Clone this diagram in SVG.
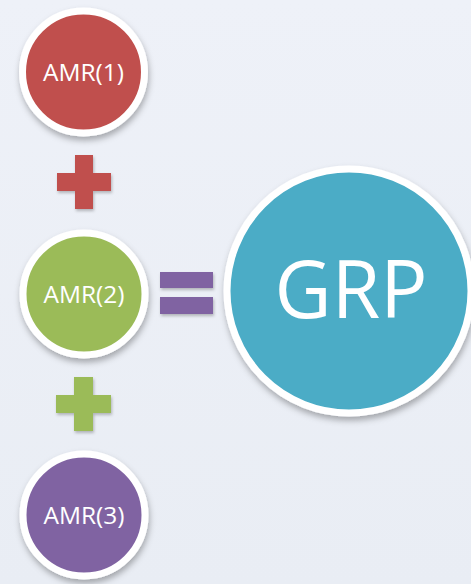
<svg xmlns="http://www.w3.org/2000/svg" width="471" height="584" viewBox="0 0 471 584">
<defs>
<linearGradient id="bg" x1="0" y1="0" x2="0" y2="1">
<stop offset="0" stop-color="#EEF1F8"/>
<stop offset="1" stop-color="#E9EDF4"/>
</linearGradient>
<filter id="sh" x="-20%" y="-20%" width="140%" height="150%">
<feDropShadow dx="1" dy="4" stdDeviation="3" flood-color="#000" flood-opacity="0.3"/>
</filter>
<filter id="sh2" x="-20%" y="-20%" width="140%" height="150%">
<feDropShadow dx="1" dy="2" stdDeviation="1.5" flood-color="#000" flood-opacity="0.25"/>
</filter>
</defs>
<style>
.ring{stroke:#FFFFFF;stroke-width:7;filter:url(#sh)}
.lbl{font-family:"Open Sans","Liberation Sans",sans-serif;fill:#FFFFFF;text-anchor:middle}
.small{font-size:23.5px}
.op{filter:url(#sh2)}
</style>
<rect width="471" height="584" fill="url(#bg)"/>
<g id="amr1">
<circle class="ring" cx="83.5" cy="72" r="61" fill="#C0504D"/>
<text class="lbl small" x="83.5" y="80.5" textLength="81" lengthAdjust="spacingAndGlyphs">AMR(1)</text>
</g>
<g id="amr2">
<circle class="ring" cx="84" cy="294" r="61" fill="#9BBB59"/>
<text class="lbl small" x="84" y="302.5" textLength="81" lengthAdjust="spacingAndGlyphs">AMR(2)</text>
</g>
<g id="amr3">
<circle class="ring" cx="84" cy="515" r="61" fill="#8064A2"/>
<text class="lbl small" x="84" y="523.5" textLength="81" lengthAdjust="spacingAndGlyphs">AMR(3)</text>
</g>
<g id="grp">
<circle class="ring" cx="349" cy="291" r="122" fill="#4BACC6"/>
<text class="lbl" x="351" y="318" font-size="80" textLength="153" lengthAdjust="spacingAndGlyphs">GRP</text>
</g>
<g id="connectors">
<path class="op" fill="#C0504D" d="M75 155h18v18h18v18h-18v18h-18v-18h-18v-18h18z"/>
<path class="op" fill="#9BBB59" d="M74 377h19v18h18v18h-18v18h-19v-18h-18v-18h18z"/>
<rect class="op" fill="#8064A2" x="160" y="272" width="53" height="16"/>
<rect class="op" fill="#8064A2" x="160" y="297" width="53" height="17"/>
</g>
</svg>
